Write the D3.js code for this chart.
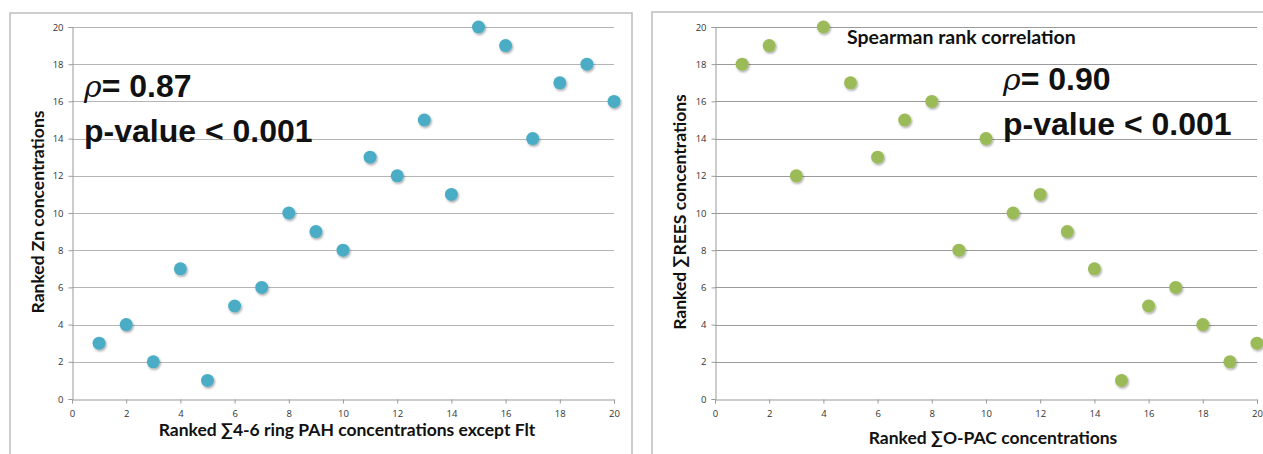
<!DOCTYPE html>
<html><head><meta charset="utf-8">
<script src="https://cdn.jsdelivr.net/npm/d3@7"></script>
<style>body{margin:0;background:#fff}svg{display:block}</style>
</head><body>
<svg id="c" width="1263" height="454"></svg>
<script>
const xTicks = [0,2,4,6,8,10,12,14,16,18,20];
const yTicks = [0,2,4,6,8,10,12,14,16,18,20];
const leftX = [1,2,3,4,5,6,7,8,9,10,11,12,13,14,15,16,17,18,19,20];
const leftY = [3,4,2,7,1,5,6,10,9,8,13,12,15,11,20,19,14,17,18,16];
const rightX = [1,2,3,4,5,6,7,8,9,10,11,12,13,14,15,16,17,18,19,20];
const rightY = [18,19,12,20,17,13,15,16,8,14,10,11,9,7,1,5,6,4,2,3];
const leftTitles = {x:"Ranked ∑4-6 ring PAH concentrations except Flt", y:"Ranked Zn concentrations"};
const rightTitles = {x:"Ranked ∑O-PAC concentrations", y:"Ranked ∑REES concentrations"};
const leftStats = ["= 0.87","p-value < 0.001"];
const rightStats = ["= 0.90","p-value < 0.001"];
const rightNote = "Spearman rank correlation";

const svg = d3.select("#c");
const defs = svg.append("defs");
const f = defs.append("filter").attr("id","sh").attr("x","-50%").attr("y","-50%").attr("width","200%").attr("height","200%");
f.append("feDropShadow").attr("dx",1).attr("dy",1.5).attr("stdDeviation",1.2).attr("flood-color","#000").attr("flood-opacity",0.35);

const titleFont = "bold 17.5px Lato, sans-serif";
const noteFont = "bold 19.5px Lato, sans-serif";
const statFont = "bold 32px 'Liberation Sans', Arial, sans-serif";

function panel(o){
  const g = svg.append("g");
  g.append("rect").attr("x",o.bx).attr("y",o.by).attr("width",o.bw).attr("height",o.bh)
    .attr("fill","none").attr("stroke","#bdbdbd").attr("stroke-width",1.5);
  const x = d3.scaleLinear().domain([0,20]).range([o.x0,o.x1]);
  const y = d3.scaleLinear().domain([0,20]).range([o.y0,o.y1]);
  g.append("g").selectAll("line").data(yTicks.filter(d=>d>0)).join("line")
    .attr("x1",x(0)).attr("x2",x(20)).attr("y1",d=>Math.round(y(d))+0.5).attr("y2",d=>Math.round(y(d))+0.5)
    .attr("stroke",o.grid).attr("stroke-width",1);
  const fontTick = "9.5px 'Open Sans', sans-serif";
  const ya = g.append("g").attr("transform",`translate(${x(0)+0.5},0)`)
    .call(d3.axisLeft(y).tickValues(yTicks).tickSize(4).tickPadding(5));
  const xa = g.append("g").attr("transform",`translate(0,${Math.round(y(0))+0.5})`)
    .call(d3.axisBottom(x).tickValues(xTicks).tickSize(4).tickPadding(7));
  [ya,xa].forEach(a=>{
    a.select(".domain").attr("stroke","#9a9a9a");
    a.selectAll(".tick line").attr("stroke","#9a9a9a");
    a.selectAll(".tick text").attr("fill","#333").style("font",fontTick);
  });
  g.append("g").selectAll("circle").data(o.xs.map((d,i)=>[d,o.ys[i]])).join("circle")
    .attr("cx",d=>x(d[0])).attr("cy",d=>y(d[1])).attr("r",6.5)
    .attr("fill",o.color).attr("filter","url(#sh)");
  g.append("text").attr("x",o.xtx).attr("y",o.xty).attr("text-anchor","middle")
    .style("font",titleFont).attr("fill","#111").text(o.titles.x);
  g.append("text").attr("transform",`translate(${o.ytx},${o.yty}) rotate(-90)`).attr("text-anchor","middle")
    .style("font",titleFont).attr("fill","#111").text(o.titles.y);
  const t1 = g.append("text").attr("x",o.sx).attr("y",o.sy1).style("font",statFont).attr("fill","#111");
  t1.append("tspan").style("font","italic 30px 'DejaVu Serif', serif").text("ρ");
  t1.append("tspan").text(o.stats[0]);
  g.append("text").attr("x",o.sx).attr("y",o.sy2).style("font",statFont).attr("fill","#111").text(o.stats[1]);
  if(o.note){
    g.append("text").attr("x",o.nx).attr("y",o.ny).style("font",noteFont).attr("fill","#111").text(o.note);
  }
}

panel({bx:10,by:13,bw:622,bh:460,x0:72,x1:614,y0:399,y1:27,grid:"#b5b5b5",color:"#4BACC6",
  xs:leftX,ys:leftY,titles:leftTitles,xtx:347,xty:436,ytx:44,yty:212,stats:leftStats,sx:84,sy1:97,sy2:142});
panel({bx:652,by:12,bw:640,bh:460,x0:715,x1:1257,y0:399,y1:27,grid:"#9a9a9a",color:"#9BBB59",
  xs:rightX,ys:rightY,titles:rightTitles,xtx:993,xty:444,ytx:686,yty:212,stats:rightStats,sx:1003,sy1:90,sy2:135,
  note:rightNote,nx:847,ny:44});
</script>
</body></html>
